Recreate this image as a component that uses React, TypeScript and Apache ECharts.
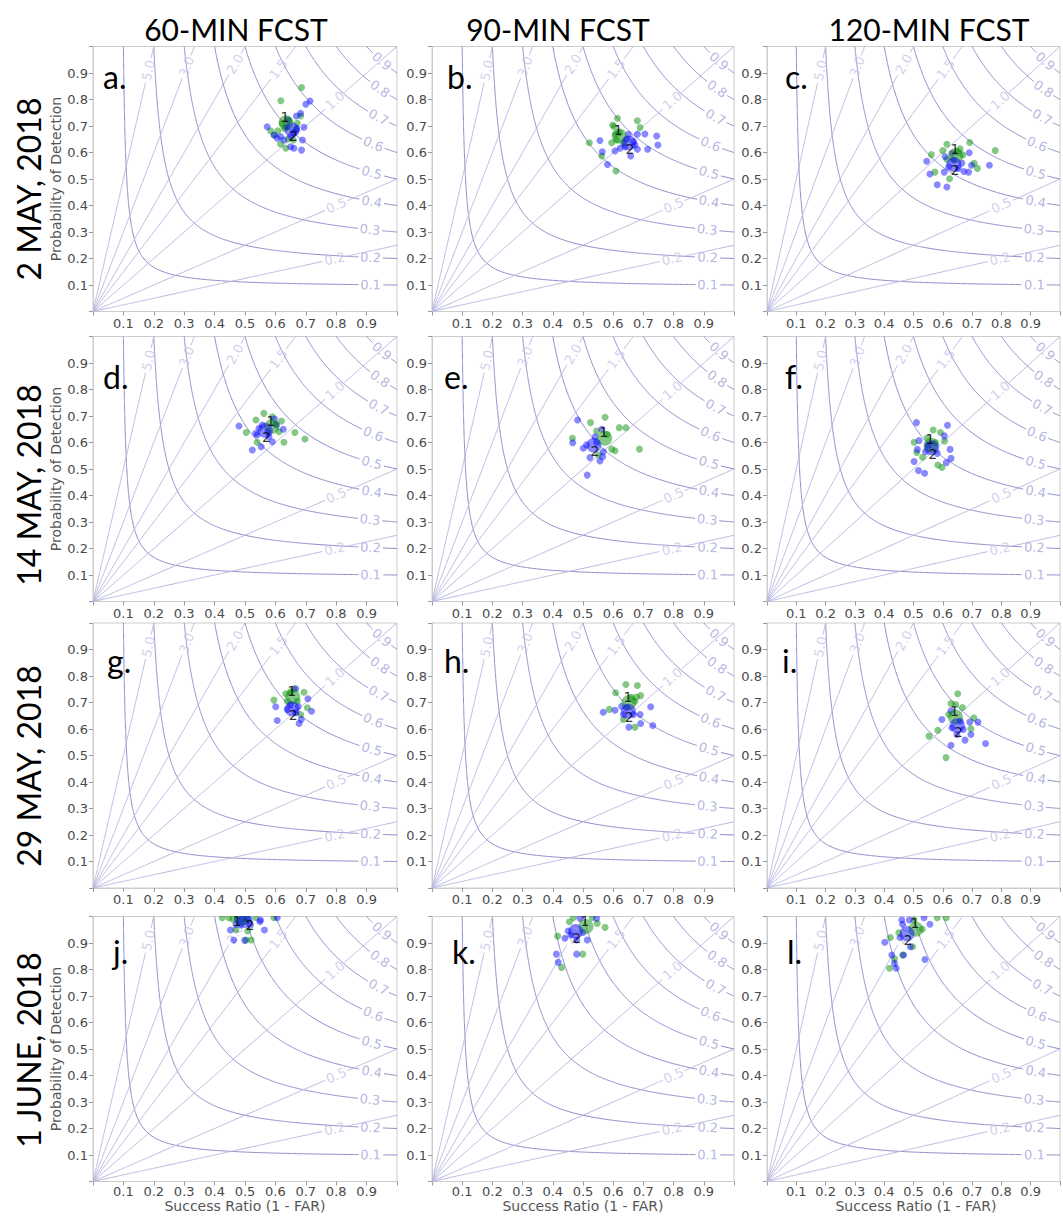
import React, { useEffect, useRef } from "react";
import * as echarts from "echarts";

const columnTitles = ["60-MIN FCST", "90-MIN FCST", "120-MIN FCST"];
const rowTitles = ["2 MAY, 2018", "14 MAY, 2018", "29 MAY, 2018", "1 JUNE, 2018"];
const panelLetters = ["a.", "b.", "c.", "d.", "e.", "f.", "g.", "h.", "i.", "j.", "k.", "l."];
const xAxisName = "Success Ratio (1 - FAR)";
const yAxisName = "Probability of Detection";

const csiLevels = [0.1, 0.2, 0.3, 0.4, 0.5, 0.6, 0.7, 0.8, 0.9];
const csiLabels = ["0.1", "0.2", "0.3", "0.4", "0.5", "0.6", "0.7", "0.8", "0.9"];
const csiLabelSR = [0.913, 0.913, 0.911, 0.917, 0.917, 0.922, 0.939, 0.944, 0.95];
const biasLevels = [0.25, 0.5, 1.0, 1.5, 2.0, 3.0, 5.0];
const biasLabels = ["0.2", "0.5", "1.0", "1.5", "2.0", "3.0", "5.0"];
const biasLabelSR = [0.795, 0.8, 0.796, 0.61, 0.467, 0.308, 0.182];

// scatter data: [success ratio, probability of detection]
const greenA = [[0.686,0.845],[0.618,0.795],[0.683,0.738],[0.584,0.682],[0.597,0.666],[0.608,0.682],[0.672,0.71],[0.667,0.685],[0.617,0.632],[0.634,0.616],[0.659,0.647],[0.641,0.651],[0.623,0.71],[0.645,0.72],[0.63,0.69]];
const blueA = [[0.714,0.794],[0.7,0.782],[0.683,0.748],[0.669,0.738],[0.573,0.697],[0.694,0.695],[0.606,0.654],[0.628,0.647],[0.65,0.66],[0.689,0.647],[0.65,0.622],[0.661,0.616],[0.686,0.609],[0.617,0.66],[0.595,0.666],[0.637,0.697],[0.641,0.723],[0.66,0.675],[0.67,0.69]];
const greenB = [[0.614,0.729],[0.68,0.72],[0.689,0.694],[0.598,0.704],[0.603,0.697],[0.608,0.669],[0.521,0.637],[0.595,0.637],[0.562,0.587],[0.609,0.53],[0.634,0.637],[0.611,0.647],[0.62,0.675]];
const blueB = [[0.556,0.645],[0.564,0.603],[0.581,0.555],[0.606,0.606],[0.65,0.669],[0.68,0.669],[0.705,0.67],[0.744,0.662],[0.748,0.628],[0.714,0.612],[0.68,0.612],[0.658,0.587],[0.639,0.622],[0.672,0.628],[0.623,0.616],[0.667,0.641],[0.645,0.65]];
const greenC = [[0.614,0.631],[0.692,0.638],[0.659,0.614],[0.6,0.607],[0.561,0.592],[0.779,0.607],[0.668,0.591],[0.707,0.559],[0.718,0.54],[0.573,0.526],[0.623,0.501],[0.614,0.574],[0.65,0.6]];
const blueC = [[0.631,0.597],[0.69,0.599],[0.545,0.567],[0.556,0.519],[0.605,0.526],[0.581,0.478],[0.614,0.47],[0.698,0.552],[0.759,0.552],[0.672,0.528],[0.688,0.526],[0.637,0.572],[0.653,0.54],[0.62,0.546],[0.608,0.584],[0.665,0.56]];
const greenD = [[0.562,0.71],[0.536,0.685],[0.59,0.697],[0.62,0.681],[0.504,0.638],[0.664,0.638],[0.697,0.613],[0.628,0.601],[0.54,0.601],[0.612,0.641],[0.6,0.67]];
const blueD = [[0.48,0.662],[0.524,0.572],[0.553,0.584],[0.59,0.603],[0.626,0.65],[0.597,0.689],[0.604,0.666],[0.54,0.628],[0.557,0.666],[0.579,0.622],[0.546,0.654],[0.535,0.635],[0.575,0.64]];
const greenE = [[0.573,0.695],[0.525,0.675],[0.62,0.656],[0.642,0.656],[0.465,0.616],[0.545,0.643],[0.595,0.575],[0.606,0.569],[0.687,0.575],[0.551,0.553],[0.58,0.63]];
const blueE = [[0.482,0.685],[0.562,0.65],[0.466,0.599],[0.512,0.591],[0.523,0.543],[0.556,0.53],[0.565,0.546],[0.514,0.477],[0.54,0.622],[0.567,0.565],[0.501,0.578],[0.545,0.6]];
const greenF = [[0.567,0.647],[0.592,0.638],[0.547,0.618],[0.502,0.601],[0.606,0.606],[0.511,0.562],[0.583,0.515],[0.597,0.506],[0.531,0.544],[0.575,0.6]];
const blueF = [[0.51,0.675],[0.616,0.665],[0.605,0.625],[0.519,0.607],[0.513,0.574],[0.625,0.574],[0.628,0.54],[0.612,0.524],[0.502,0.528],[0.517,0.494],[0.538,0.484],[0.581,0.559],[0.541,0.565],[0.55,0.59]];
const greenG = [[0.661,0.752],[0.634,0.733],[0.694,0.739],[0.595,0.709],[0.705,0.68],[0.683,0.655],[0.672,0.705],[0.639,0.705],[0.65,0.74]];
const blueG = [[0.667,0.752],[0.601,0.684],[0.707,0.714],[0.719,0.667],[0.606,0.632],[0.678,0.621],[0.685,0.636],[0.639,0.674],[0.667,0.661],[0.65,0.692],[0.675,0.685]];
const greenH = [[0.642,0.768],[0.68,0.764],[0.608,0.737],[0.691,0.726],[0.677,0.721],[0.587,0.674],[0.634,0.636],[0.672,0.607],[0.672,0.705],[0.66,0.72]];
const blueH = [[0.567,0.663],[0.606,0.671],[0.724,0.684],[0.689,0.655],[0.691,0.621],[0.731,0.613],[0.652,0.607],[0.628,0.686],[0.667,0.655],[0.634,0.655],[0.645,0.68]];
const greenI = [[0.651,0.733],[0.628,0.696],[0.644,0.692],[0.667,0.681],[0.706,0.642],[0.696,0.601],[0.583,0.595],[0.553,0.573],[0.611,0.492],[0.62,0.655]];
const blueI = [[0.628,0.669],[0.597,0.636],[0.72,0.626],[0.692,0.626],[0.696,0.579],[0.676,0.558],[0.628,0.539],[0.746,0.545],[0.648,0.579],[0.67,0.598],[0.631,0.605],[0.66,0.63]];
const greenJ = [[0.425,0.995],[0.447,0.995],[0.47,0.949],[0.509,0.945],[0.504,0.911],[0.52,0.911],[0.535,0.995],[0.502,0.981],[0.595,0.995],[0.46,0.99]];
const blueJ = [[0.452,0.949],[0.463,0.911],[0.564,0.949],[0.549,0.981],[0.606,0.995],[0.474,0.987],[0.491,0.993],[0.485,0.968],[0.518,0.968],[0.499,0.91],[0.551,0.987],[0.47,0.97],[0.51,0.99]];
const greenK = [[0.455,0.98],[0.573,0.959],[0.416,0.926],[0.499,0.858],[0.429,0.808],[0.468,0.995],[0.547,0.974],[0.53,0.995]];
const blueK = [[0.545,0.993],[0.451,0.945],[0.44,0.918],[0.479,0.911],[0.514,0.911],[0.412,0.858],[0.479,0.858],[0.418,0.827],[0.49,0.993],[0.46,0.93],[0.5,0.94]];
const greenL = [[0.421,0.921],[0.45,0.939],[0.53,0.952],[0.497,0.886],[0.435,0.84],[0.463,0.855],[0.418,0.805],[0.581,0.995],[0.612,0.995],[0.502,0.987]];
const blueL = [[0.46,0.987],[0.486,0.987],[0.463,0.971],[0.556,0.971],[0.402,0.903],[0.455,0.921],[0.489,0.886],[0.426,0.855],[0.466,0.855],[0.435,0.823],[0.441,0.805],[0.539,0.838],[0.536,0.995]];

const greenSets = [greenA, greenB, greenC, greenD, greenE, greenF, greenG, greenH, greenI, greenJ, greenK, greenL];
const blueSets = [blueA, blueB, blueC, blueD, blueE, blueF, blueG, blueH, blueI, blueJ, blueK, blueL];
const meanGreen = [[0.635,0.712],[0.62,0.662],[0.645,0.59],[0.588,0.66],[0.572,0.616],[0.56,0.59],[0.657,0.722],[0.652,0.7],[0.643,0.645],[0.49,0.995],[0.51,0.962],[0.508,0.952]];
const meanBlue = [[0.655,0.685],[0.652,0.636],[0.638,0.555],[0.567,0.645],[0.536,0.59],[0.562,0.58],[0.655,0.675],[0.65,0.667],[0.65,0.612],[0.5,0.985],[0.476,0.943],[0.478,0.935]];

// layout
const colLeft = [93, 432, 767];
const colWidth = [304, 302, 298];
const rowTop = [46.5, 336.5, 623, 916.5];
const rowHeight = 265;
const titleX = [236, 558, 929];
const rowTitleY = [189, 485, 766, 1050];
const letterDX = [10, 15, 18, 10, 12, 18, 14, 12, 15, 20, 20, 20];
const letterDY = [30, 30, 30, 40, 40, 40, 37, 37, 37, 35, 35, 35];
const meanLabelOffset1 = [[-1,-6],[-1,-6],[-1,-6],[-1,-6],[-1,-6],[-1,-6],[-1,-6],[-1,-6],[-1,-6],[-5,3],[-1,-6],[-1,-6]];
const meanLabelOffset2 = [[1,6],[1,6],[1,6],[1,6],[1,6],[1,6],[1,6],[1,6],[1,6],[5,5],[1,6],[1,6]];

const csiColor = "#8a8aca";
const biasColor = "#b8b8e2";
const csiLabelColor = "#a4a4d8";
const biasLabelColor = "#c4c4e8";
const greenColor = "rgba(0,140,0,0.6)";
const blueColor = "rgba(0,0,255,0.58)";

function csiCurve(c: number): number[][] {
  const m = (2 * c) / (1 + c);
  const pts: number[][] = [];
  const n = 200;
  for (let i = 0; i <= n; i++) {
    const pod = 1 - ((1 - m) * i) / n;
    pts.push([1 / (1 / c + 1 - 1 / pod), pod]);
  }
  for (let i = 1; i <= n; i++) {
    const sr = m + ((1 - m) * i) / n;
    pts.push([sr, 1 / (1 / c + 1 - 1 / sr)]);
  }
  return pts;
}

function biasLine(b: number): number[][] {
  const end = b >= 1 ? [1 / b, 1] : [1, b];
  const pts: number[][] = [];
  const n = 300;
  for (let i = 0; i <= n; i++) pts.push([(end[0] * i) / n, (end[1] * i) / n]);
  return pts;
}

function splitGap(pts: number[][], cx: number, cy: number, w: number, h: number, r: number) {
  const segs: number[][][] = [];
  let cur: number[][] = [];
  for (const p of pts) {
    const d = Math.hypot((p[0] - cx) * w, (p[1] - cy) * h);
    if (d < r) {
      if (cur.length > 1) segs.push(cur);
      cur = [];
    } else cur.push(p);
  }
  if (cur.length > 1) segs.push(cur);
  return segs;
}

function buildOption() {
  const grid: any[] = [];
  const xAxis: any[] = [];
  const yAxis: any[] = [];
  const series: any[] = [];
  const graphic: any[] = [];
  const tickFmt = (v: number) => (v > 0.05 && v < 0.95 ? v.toFixed(1) : "");

  for (let p = 0; p < 12; p++) {
    const r = Math.floor(p / 3);
    const c = p % 3;
    const w = colWidth[c];
    const h = rowHeight;
    grid.push({ left: colLeft[c], top: rowTop[r], width: w, height: h, show: true, borderColor: "#cccccc", borderWidth: 1 });
    const axisCommon = {
      type: "value", gridIndex: p, min: 0, max: 1, interval: 0.1,
      axisLine: { show: true, lineStyle: { color: "#cccccc" } },
      axisTick: { show: true, length: 4, lineStyle: { color: "#999999" } },
      splitLine: { show: false },
      axisLabel: { formatter: tickFmt, color: "#4a4a4a", fontSize: 13, fontFamily: "DejaVu Sans", margin: 5 },
    };
    xAxis.push({ ...axisCommon, axisLabel: { ...axisCommon.axisLabel, margin: r === 3 ? 3 : 5 } });
    yAxis.push({ ...axisCommon });

    const lineBase = { type: "line", xAxisIndex: p, yAxisIndex: p, showSymbol: false, symbol: "none", silent: true, animation: false, z: 1 };
    const csiLabelData: any[] = [];
    csiLevels.forEach((lv, i) => {
      const sr = csiLabelSR[i];
      const pod = 1 / (1 / lv + 1 - 1 / sr);
      const segs = splitGap(csiCurve(lv), sr, pod, w, h, 12);
      segs.forEach((s) => series.push({ ...lineBase, data: s, lineStyle: { color: csiColor, width: 1 } }));
      const ang = (Math.atan(((pod * pod) / (sr * sr)) * (h / w)) * 180) / Math.PI;
      csiLabelData.push({ value: [sr, pod], label: { formatter: csiLabels[i], rotate: -ang } });
    });
    const biasLabelData: any[] = [];
    biasLevels.forEach((b, i) => {
      const sr = biasLabelSR[i];
      const pod = b * sr;
      const segs = splitGap(biasLine(b), sr, pod, w, h, 12);
      segs.forEach((s) => series.push({ ...lineBase, data: s, lineStyle: { color: biasColor, width: 1 } }));
      const ang = (Math.atan(b * (h / w)) * 180) / Math.PI;
      biasLabelData.push({ value: [sr, pod], label: { formatter: biasLabels[i], rotate: ang } });
    });
    const labelSeries = (data: any[], color: string) => ({
      type: "scatter", xAxisIndex: p, yAxisIndex: p, data, symbolSize: 1, silent: true, z: 2,
      itemStyle: { color: "rgba(0,0,0,0)" },
      label: { show: true, position: "inside", color, fontSize: 13, fontFamily: "DejaVu Sans" },
    });
    series.push(labelSeries(csiLabelData, csiLabelColor));
    series.push(labelSeries(biasLabelData, biasLabelColor));

    series.push({ type: "scatter", xAxisIndex: p, yAxisIndex: p, data: greenSets[p], symbolSize: 7, itemStyle: { color: greenColor }, silent: true, z: 3 });
    series.push({ type: "scatter", xAxisIndex: p, yAxisIndex: p, data: blueSets[p], symbolSize: 7, itemStyle: { color: blueColor }, silent: true, z: 4 });
    series.push({
      type: "scatter", xAxisIndex: p, yAxisIndex: p, silent: true, z: 5, symbolSize: 15,
      data: [
        { value: meanGreen[p], itemStyle: { color: greenColor }, label: { formatter: "1", offset: meanLabelOffset1[p] } },
        { value: meanBlue[p], itemStyle: { color: blueColor }, label: { formatter: "2", offset: meanLabelOffset2[p] } },
      ],
      label: { show: true, position: "inside", color: "#000", fontSize: 14, fontFamily: "DejaVu Sans" },
    });

    graphic.push({
      type: "text", x: colLeft[c] + letterDX[p], y: rowTop[r] + letterDY[p], z: 50,
      style: { text: panelLetters[p], font: "32px Lato", fill: "#000", textAlign: "left", textVerticalAlign: "middle" },
    });
    if (r === 3) {
      graphic.push({
        type: "text", x: colLeft[c] + w / 2, y: 1206, z: 50,
        style: { text: xAxisName, font: "14px 'DejaVu Sans'", fill: "#555", textAlign: "center", textVerticalAlign: "middle" },
      });
      graphic.push({ type: "rect", z: 40, shape: { x: colLeft[c] - 3, y: 908, width: w + 6, height: 8 }, style: { fill: "#fff" } });
    }
    if (c === 0 && r !== 2) {
      graphic.push({
        type: "text", x: 56, y: rowTop[r] + h / 2, rotation: Math.PI / 2, z: 50,
        style: { text: yAxisName, font: "14px 'DejaVu Sans'", fill: "#555", textAlign: "center", textVerticalAlign: "middle" },
      });
    }
  }
  columnTitles.forEach((t, i) =>
    graphic.push({ type: "text", x: titleX[i], y: 29, z: 50, style: { text: t, font: "30px Lato", fill: "#000", textAlign: "center", textVerticalAlign: "middle" } })
  );
  rowTitles.forEach((t, i) =>
    graphic.push({ type: "text", x: 28, y: rowTitleY[i], rotation: Math.PI / 2, z: 50, style: { text: t, font: "32px Lato", fill: "#000", textAlign: "center", textVerticalAlign: "middle" } })
  );

  return { animation: false, backgroundColor: "#ffffff", grid, xAxis, yAxis, series, graphic };
}

export default function App() {
  const ref = useRef<HTMLDivElement>(null);
  useEffect(() => {
    document.body.style.margin = "0";
    const chart = echarts.init(ref.current!, null, { renderer: "svg" });
    chart.setOption(buildOption());
    return () => chart.dispose();
  }, []);
  return <div ref={ref} style={{ width: 1063, height: 1216 }} />;
}
